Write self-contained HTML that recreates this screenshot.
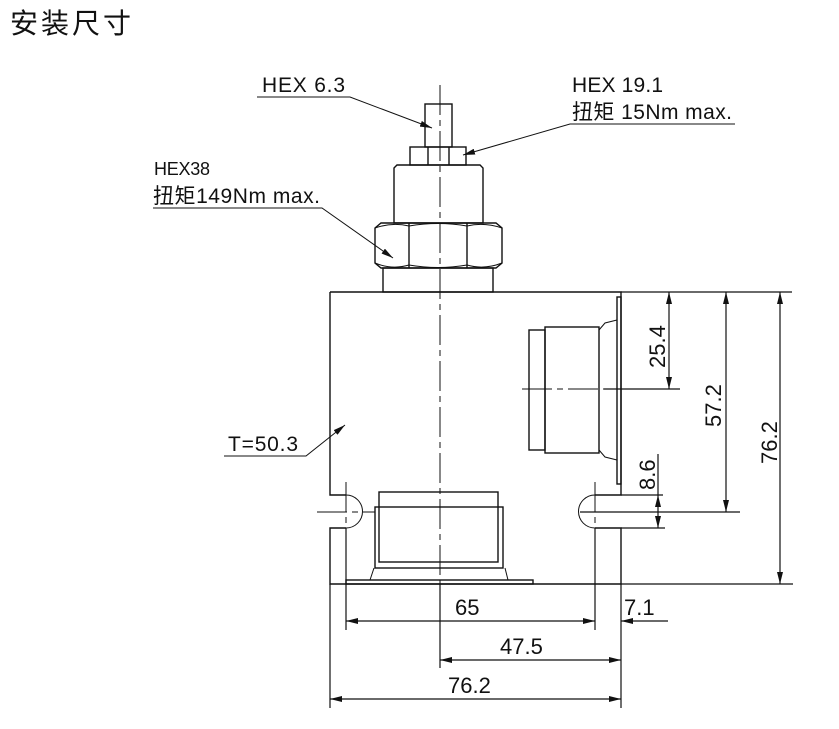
<!DOCTYPE html>
<html><head><meta charset="utf-8"><style>
html,body{margin:0;padding:0;background:#fff;width:839px;height:729px;overflow:hidden}
svg{display:block}
text{font-family:"Liberation Sans","Noto Sans CJK SC",sans-serif;fill:#111}
</style></head><body>
<svg width="839" height="729" viewBox="0 0 839 729" xmlns="http://www.w3.org/2000/svg">
<defs>
<marker id="a" viewBox="0 0 12 6" refX="12" refY="3" markerWidth="12" markerHeight="6" orient="auto-start-reverse" markerUnits="userSpaceOnUse"><path d="M0,0 L12,3 L0,6 z" fill="#111"/></marker>
</defs>
<text x="10" y="33" font-size="28" style="font-family:'Noto Sans CJK SC',sans-serif;letter-spacing:3px">安装尺寸</text>
<g stroke="#111" stroke-width="1.4" fill="none">
<rect x="425" y="104" width="27" height="43"/>
<rect x="410" y="147" width="56" height="18"/>
<line x1="428" y1="147" x2="428" y2="165"/><line x1="449" y1="147" x2="449" y2="165"/>
<path d="M394,168 L397,165 L480,165 L483,168 L483,223 L394,223 Z"/>
<path d="M375,228 L381,223 L496,223 L502,228 L502,263 L496,268 L381,268 L375,263 Z"/>
<path d="M409,223 L409,268 M467,223 L467,268" />
<path d="M375,228 Q392,222 409,226 Q438,221 467,226 Q484,222 502,228 M375,263 Q392,270 409,265 Q438,270 467,265 Q484,270 502,263" stroke-width="1"/>
<rect x="383" y="268" width="110" height="24"/>
<path d="M330,292 L621,292 L621,495 L595,495 M595,528 L621,528 L621,584 L330,584 L330,528 L346,528 M346,495 L330,495 L330,292"/>
<path d="M346,495 A16.5,16.5 0 0 1 346,528" stroke-width="1"/>
<path d="M595,495 A16.5,16.5 0 0 0 595,528" stroke-width="1"/>
<rect x="617" y="297" width="4" height="187"/>
<rect x="529" y="330" width="16" height="120"/>
<rect x="545" y="327" width="54" height="126"/>
<path d="M599,330 L605,323 L617,320 M599,450 L605,457 L617,460" stroke-width="1"/>
<rect x="379" y="492" width="119" height="70"/>
<rect x="375" y="507" width="128" height="61"/>
<path d="M374,568 L370,580 M505,568 L508,580" stroke-width="1"/>
<rect x="346" y="580" width="187" height="4"/>
<g stroke-width="1.2">
<line x1="346" y1="528" x2="346" y2="630"/>
<line x1="595" y1="528" x2="595" y2="630"/>
<line x1="330" y1="584" x2="330" y2="708"/>
<line x1="621" y1="584" x2="621" y2="708"/>
<line x1="440" y1="584" x2="440" y2="668"/>
<line x1="346" y1="621" x2="595" y2="621" marker-start="url(#a)" marker-end="url(#a)"/>
<line x1="668" y1="621" x2="621" y2="621" marker-end="url(#a)"/>
<line x1="440" y1="660" x2="621" y2="660" marker-start="url(#a)" marker-end="url(#a)"/>
<line x1="330" y1="699" x2="621" y2="699" marker-start="url(#a)" marker-end="url(#a)"/>
<line x1="621" y1="292" x2="792" y2="292"/>
<line x1="621" y1="584" x2="793" y2="584"/>
<line x1="621" y1="495" x2="663" y2="495"/>
<line x1="621" y1="528" x2="665" y2="528"/>
<line x1="580" y1="512" x2="740" y2="512"/>
<line x1="604" y1="389" x2="680" y2="389"/>
<line x1="669" y1="292" x2="669" y2="389" marker-start="url(#a)" marker-end="url(#a)"/>
<line x1="726" y1="292" x2="726" y2="512" marker-start="url(#a)" marker-end="url(#a)"/>
<line x1="780" y1="292" x2="780" y2="584" marker-start="url(#a)" marker-end="url(#a)"/>
<line x1="658" y1="454" x2="658" y2="495" />
<line x1="658" y1="511" x2="658" y2="495" marker-end="url(#a)"/>
<line x1="658" y1="511" x2="658" y2="528" marker-end="url(#a)"/>
</g>
<g stroke-width="1" stroke-dasharray="30,5,6,5">
<line x1="440" y1="85" x2="440" y2="600"/>
<line x1="317" y1="512" x2="375" y2="512"/>
<line x1="522" y1="389" x2="610" y2="389"/>
<line x1="346" y1="482" x2="346" y2="540"/>
<line x1="595" y1="482" x2="595" y2="540"/>
</g>
<g stroke-width="1">
<polyline points="257,97 350,97 432,128" marker-end="url(#a)"/>
<polyline points="735,124 570,124 463,155" marker-end="url(#a)"/>
<polyline points="153,208 322,208 393,258" marker-end="url(#a)"/>
<polyline points="224,456 306,456 345,425" marker-end="url(#a)"/>
</g>
</g>
<text x="262" y="92" font-size="21" textLength="83">HEX 6.3</text>
<text x="572" y="92" font-size="21" textLength="91">HEX 19.1</text>
<text x="572" y="119" font-size="21" textLength="160">扭矩 15Nm max.</text>
<text x="154" y="175" font-size="18" textLength="56">HEX38</text>
<text x="153" y="203" font-size="21" textLength="167">扭矩149Nm max.</text>
<text x="228" y="451" font-size="21" textLength="70">T=50.3</text>
<text x="455" y="615" font-size="22">65</text>
<text x="624" y="615" font-size="22">7.1</text>
<text x="500" y="654" font-size="22">47.5</text>
<text x="448" y="693" font-size="22">76.2</text>
<text transform="translate(665,368) rotate(-90)" font-size="22">25.4</text>
<text transform="translate(721,427) rotate(-90)" font-size="22">57.2</text>
<text transform="translate(777,464) rotate(-90)" font-size="22">76.2</text>
<text transform="translate(655,490) rotate(-90)" font-size="22">8.6</text>
</svg>
</body></html>
